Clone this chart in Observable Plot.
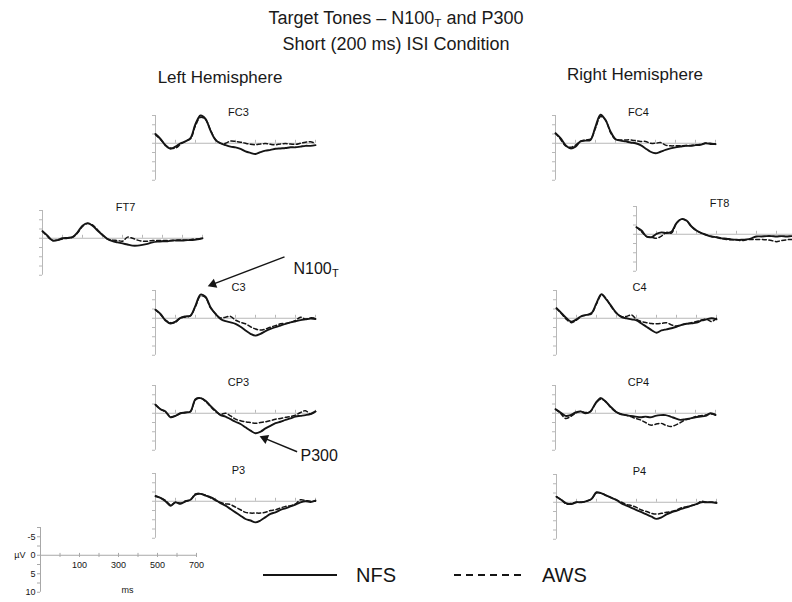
<!DOCTYPE html>
<html>
<head>
<meta charset="utf-8">
<script src="https://cdn.jsdelivr.net/npm/d3@7"></script>
<script src="https://cdn.jsdelivr.net/npm/@observablehq/plot@0.6"></script>
<style>
  body { margin: 0; background: #fff; }
  #chart { position: relative; width: 792px; height: 602px; overflow: hidden;
           font-family: "Liberation Sans", Arial, sans-serif; color: #1a1a1a; background: #fff; }
  .txt { position: absolute; white-space: nowrap; transform: translate(-50%, -50%); line-height: 1; }
  .panel { position: absolute; }
  .panel svg { overflow: visible; max-width: none; display: block; }
  sub { font-size: 0.65em; vertical-align: -0.25em; }
</style>
</head>
<body>
<div id="chart">
  <div class="txt" style="left:396px;top:19px;font-size:18px;">Target Tones – N100<sub>T</sub> and P300</div>
  <div class="txt" style="left:396px;top:44px;font-size:18px;">Short (200 ms) ISI Condition</div>
  <div class="txt" style="left:220px;top:77px;font-size:17px;">Left Hemisphere</div>
  <div class="txt" style="left:635px;top:74px;font-size:17px;">Right Hemisphere</div>
</div>
<script>
// Sample times (ms after tone onset)
const times = [-100,-75,-50,-25,0,25,50,75,100,125,150,175,200,225,250,275,300,325,350,375,400,425,450,475,500,525,550,575,600,625,650,675,700];

// Grand-average waveforms (µV, negative up) per electrode and group
const FC3_NFS = [-2.5,-1.2,0.6,1.5,0.9,0.0,-0.5,-1.4,-5.2,-7.5,-6.6,-3.4,-0.9,0.0,0.5,0.9,1.1,1.5,2.2,2.6,2.9,2.4,2.0,1.8,1.5,1.4,1.3,1.1,1.1,0.9,0.7,0.7,0.5];
const FC3_AWS = [-2.3,-1.0,0.5,1.3,1.3,0.3,-0.6,-1.2,-4.8,-7.0,-6.4,-3.6,-1.0,0.0,0.0,-0.6,-0.5,-0.3,0.0,0.3,0.4,0.2,0.1,0.3,0.4,0.2,0.1,0.2,0.3,0.0,-0.3,-0.4,0.0];
const FT7_NFS = [-1.9,-0.7,0.6,0.5,0.0,-0.1,-0.3,-1.6,-3.4,-4.1,-3.4,-2.1,-0.9,0.2,0.8,1.1,1.4,1.7,2.0,2.0,1.8,1.5,1.1,0.9,0.8,0.8,0.6,0.6,0.6,0.5,0.5,0.3,0.0];
const FT7_AWS = [-1.9,-0.5,0.6,0.5,0.2,0.0,-0.3,-1.4,-3.2,-4.0,-3.6,-2.3,-0.9,0.2,0.5,0.6,0.8,-0.3,0.0,0.5,0.8,0.8,0.6,0.6,0.6,0.6,0.6,0.5,0.5,0.5,0.3,0.2,0.0];
const C3_NFS  = [-2.3,-1.2,0.6,1.4,0.9,-0.1,-0.5,-0.7,-3.4,-6.4,-5.8,-3.0,-1.2,0.2,0.8,1.1,1.5,2.3,3.3,4.2,4.7,4.2,3.5,2.9,2.4,2.0,1.5,1.1,0.8,0.5,0.3,0.1,0.2];
const C3_AWS  = [-2.3,-1.0,0.5,1.2,1.1,-0.1,-0.3,-0.7,-3.2,-6.0,-5.6,-2.8,-1.2,-0.1,-0.3,-0.5,0.5,1.1,1.5,2.3,2.9,3.2,2.9,2.4,2.0,1.5,1.4,1.1,0.6,-0.3,0.2,-0.1,0.0];
const CP3_NFS = [-2.3,-1.1,-0.5,1.1,0.7,0.0,-0.2,-0.5,-3.8,-4.1,-3.4,-2.0,-0.7,0.5,0.9,1.6,2.3,2.9,3.8,4.7,5.4,5.0,4.1,3.4,2.7,2.3,1.8,1.4,0.9,0.7,0.5,0.2,-0.5];
const CP3_AWS = [-2.3,-1.1,-0.3,0.9,0.7,0.0,-0.2,-0.5,-3.6,-4.1,-3.2,-1.8,-0.5,0.3,0.0,0.7,1.6,2.0,2.3,2.5,2.7,2.5,2.3,2.0,1.6,1.4,1.1,0.9,0.5,-0.2,-0.7,0.2,-0.5];
const P3_NFS  = [-1.3,-0.9,0.0,1.2,0.3,0.7,0.0,-0.4,-1.8,-2.0,-1.5,-1.1,-0.4,0.5,1.2,2.1,3.0,3.9,4.8,5.2,5.7,5.2,4.3,3.4,3.0,2.3,1.9,1.4,0.9,0.3,0.0,0.2,-0.2];
const P3_AWS  = [-1.5,-0.9,-0.2,1.0,0.3,0.5,0.0,-0.4,-2.0,-2.0,-1.7,-0.9,-0.2,0.3,0.7,0.9,1.6,2.3,3.0,3.2,3.2,3.2,3.0,2.5,2.3,1.8,1.4,1.2,0.7,-0.4,-0.2,0.0,0.0];
const FC4_NFS = [-2.7,-1.4,0.5,1.4,0.9,-0.5,-0.7,-0.9,-4.5,-7.7,-6.3,-3.2,-1.1,-0.7,-0.5,-0.2,0.0,0.5,1.4,2.3,2.7,2.3,1.8,1.4,1.1,0.9,0.7,0.7,0.5,0.4,0.0,0.2,0.2];
const FC4_AWS = [-2.7,-1.1,0.7,1.1,0.5,-0.5,-0.9,-1.1,-4.1,-7.2,-6.3,-2.9,-1.1,-0.9,-0.9,-0.9,-0.7,-0.5,-0.5,0.0,0.0,-0.2,0.5,0.7,0.7,0.7,0.6,0.6,0.5,0.3,0.0,0.0,0.3];
const FT8_NFS = [-1.9,-1.0,0.6,0.8,-0.1,-0.5,-0.3,-0.7,-3.0,-4.1,-3.7,-2.1,-1.0,-0.3,0.2,0.6,0.8,1.1,1.2,1.4,1.5,1.5,1.4,1.1,0.6,0.6,0.5,0.5,0.6,0.5,0.6,0.5,0.5];
const FT8_AWS = [-1.9,-0.7,0.6,0.8,1.1,0.5,-0.5,-0.3,-3.0,-4.1,-3.6,-2.1,-1.0,-0.3,0.2,0.6,0.8,1.1,1.4,1.5,1.5,1.7,1.5,1.4,1.4,1.4,1.5,1.7,2.0,1.7,1.5,1.4,1.4];
const C4_NFS  = [-2.7,-1.4,0.0,0.9,0.3,-0.6,-0.9,-1.4,-4.1,-6.5,-5.0,-3.2,-1.4,-0.3,0.0,0.3,0.6,1.4,2.3,3.2,3.9,3.3,3.0,2.7,2.3,1.8,1.5,1.4,1.2,0.6,0.3,0.0,0.3];
const C4_AWS  = [-2.7,-1.2,0.3,1.2,0.5,-0.5,-0.9,-1.2,-3.9,-6.3,-5.2,-3.0,-1.4,-0.5,-0.5,-0.9,0.3,0.9,1.2,1.4,1.5,1.4,1.2,1.8,2.1,1.8,1.5,1.2,0.9,0.5,0.3,0.9,0.0];
const CP4_NFS = [-1.1,-0.2,0.7,0.5,-0.2,-0.5,0.0,-0.5,-2.7,-4.1,-3.2,-1.8,-0.5,0.2,0.5,0.7,0.9,1.1,0.9,1.1,0.7,0.5,0.5,0.9,1.4,1.8,1.6,1.4,1.1,0.9,0.7,0.0,0.5];
const CP4_AWS = [-1.1,0.0,1.4,0.9,0.0,-0.5,-0.2,-0.5,-2.5,-3.8,-3.2,-1.6,-0.5,0.2,0.5,0.9,1.4,1.8,2.5,3.2,3.0,2.7,3.2,3.6,3.2,2.5,1.8,1.4,0.9,0.7,0.5,0.2,0.3];
const P4_NFS  = [-1.5,-0.6,0.3,0.5,0.0,0.0,-0.3,-0.9,-2.7,-2.4,-1.8,-1.2,-0.6,0.3,0.9,1.5,2.1,2.7,3.3,3.9,4.5,4.1,3.3,2.7,2.3,1.8,1.4,0.9,0.5,0.0,0.0,0.0,0.2];
const P4_AWS  = [-1.5,-0.6,0.5,0.3,0.0,0.0,-0.3,-0.9,-2.5,-2.4,-1.8,-1.2,-0.6,0.0,0.6,0.9,1.4,2.1,2.5,3.0,3.2,3.0,2.7,2.5,2.1,1.5,1.2,0.9,0.5,-0.3,0.0,0.0,0.0];

// Axis ranges and tick values
const timeDomain = [-100, 700];
const voltDomain = [-7.5, 10];
const voltTicks = [-7.5, -5, -2.5, 0, 2.5, 5, 7.5, 10];
const timeTicks = [0, 100, 200, 300, 400, 500, 600, 700];
const scaleVoltLabels = [-5, 0, 5, 10];
const scaleTimeLabels = [100, 300, 500, 700];
const groups = ["NFS", "AWS"];

// Panel placement on the page: left edge of the y axis and the 0 µV line
const layout = [
  {name: "FC3", nfs: FC3_NFS, aws: FC3_AWS, x: 155,  y: 143},
  {name: "FT7", nfs: FT7_NFS, aws: FT7_AWS, x: 41.5, y: 237.5},
  {name: "C3",  nfs: C3_NFS,  aws: C3_AWS,  x: 155,  y: 318},
  {name: "CP3", nfs: CP3_NFS, aws: CP3_AWS, x: 155,  y: 413},
  {name: "P3",  nfs: P3_NFS,  aws: P3_AWS,  x: 155,  y: 501},
  {name: "FC4", nfs: FC4_NFS, aws: FC4_AWS, x: 555,  y: 143},
  {name: "FT8", nfs: FT8_NFS, aws: FT8_AWS, x: 636,  y: 234},
  {name: "C4",  nfs: C4_NFS,  aws: C4_AWS,  x: 556,  y: 318},
  {name: "CP4", nfs: CP4_NFS, aws: CP4_AWS, x: 555,  y: 413},
  {name: "P4",  nfs: P4_NFS,  aws: P4_AWS,  x: 556,  y: 501.5}
];

// Component call-outs, in the data coordinates of their panel
const callouts = [
  {panel: "C3",  label: "N100", sub: "T", at: [590, -13.4], tail: [545, -16.6], head: [178, -9.0]},
  {panel: "CP3", label: "P300", sub: "",  at: [625, 11.4],  tail: [608, 10.4],  head: [437, 6.6]}
];

const PX_PER_MS = 0.2, PX_PER_UV = 3.7;
const M = {l: 40, r: 10, t: 18, b: 12};
const AXIS = "#b8b8b8", INK = "#151515";
const FONT = "'Liberation Sans', Arial, sans-serif";
const chart = document.getElementById("chart");

function frameSize(pxPerMs) {
  return {
    w: (timeDomain[1] - timeDomain[0]) * pxPerMs,
    h: (voltDomain[1] - voltDomain[0]) * PX_PER_UV
  };
}

function place(svg, axisX, zeroY) {
  const div = document.createElement("div");
  div.className = "panel";
  div.style.left = (axisX - M.l) + "px";
  div.style.top = (zeroY - (0 - voltDomain[0]) * PX_PER_UV - M.t) + "px";
  div.appendChild(svg);
  chart.appendChild(div);
}

function calloutMarks(c) {
  const dxPx = (c.head[0] - c.tail[0]) * PX_PER_MS;
  const dyPx = (c.head[1] - c.tail[1]) * PX_PER_UV;
  const len = Math.hypot(dxPx, dyPx);
  const ux = dxPx / len, uy = dyPx / len;
  const angle = Math.atan2(dxPx, -dyPx) * 180 / Math.PI;
  const marks = [
    Plot.link([c], {x1: d => d.tail[0], y1: d => d.tail[1], x2: d => d.head[0], y2: d => d.head[1],
                    stroke: INK, strokeWidth: 1.4}),
    Plot.dot([c], {x: d => d.head[0], y: d => d.head[1], symbol: "triangle", r: 3.6,
                   rotate: angle, fill: INK, stroke: "none", dx: -2 * ux, dy: -2 * uy}),
    Plot.text([c], {x: d => d.at[0], y: d => d.at[1], text: "label", textAnchor: "start",
                    fontSize: 16, fill: INK, lineAnchor: "middle"})
  ];
  if (c.sub) {
    marks.push(Plot.text([c], {x: d => d.at[0], y: d => d.at[1], text: "sub", textAnchor: "start",
                               fontSize: 11, fill: INK, lineAnchor: "middle", dx: 38.5, dy: 5}));
  }
  return marks;
}

function waveformPanel(p) {
  const {w, h} = frameSize(PX_PER_MS);
  const rows = times.flatMap((t, i) => [
    {t, v: p.nfs[i], group: groups[0]},
    {t, v: p.aws[i], group: groups[1]}
  ]);
  const marks = [
    Plot.ruleY([0], {stroke: AXIS, strokeWidth: 1}),
    Plot.ruleX([timeDomain[0]], {stroke: AXIS, strokeWidth: 1}),
    Plot.axisY(voltTicks, {tickSize: 3, tickFormat: () => "", stroke: AXIS, label: null}),
    Plot.ruleX(timeTicks, {x: d => d, y1: () => 0, y2: () => -0.8, stroke: AXIS}),
    Plot.line(rows.filter(d => d.group === "AWS"), {x: "t", y: "v", stroke: INK,
              strokeWidth: 1.5, strokeDasharray: "4,2.6", curve: "catmull-rom"}),
    Plot.line(rows.filter(d => d.group === "NFS"), {x: "t", y: "v", stroke: INK,
              strokeWidth: 1.9, curve: "catmull-rom"}),
    Plot.text([p.name], {frameAnchor: "top", lineAnchor: "middle", dy: -3, dx: 3,
              fontSize: 11, fill: INK})
  ];
  callouts.filter(c => c.panel === p.name).forEach(c => marks.push(...calloutMarks(c)));
  return Plot.plot({
    width: M.l + w + M.r, height: M.t + h + M.b,
    marginLeft: M.l, marginRight: M.r, marginTop: M.t, marginBottom: M.b,
    x: {domain: timeDomain, axis: null},
    y: {domain: voltDomain, reverse: true, axis: null},
    style: {fontFamily: FONT, overflow: "visible", background: "transparent"},
    marks
  });
}

layout.forEach(p => place(waveformPanel(p), p.x, p.y));

// Calibration panel: µV and ms scale
(function scalePanel() {
  const pxPerMs = 0.195;
  const {w, h} = frameSize(pxPerMs);
  const svg = Plot.plot({
    width: M.l + w + M.r, height: M.t + h + M.b,
    marginLeft: M.l, marginRight: M.r, marginTop: M.t, marginBottom: M.b,
    x: {domain: timeDomain, axis: null},
    y: {domain: voltDomain, reverse: true, axis: null},
    style: {fontFamily: FONT, overflow: "visible", background: "transparent"},
    marks: [
      Plot.ruleY([0], {stroke: "#a8a8a8"}),
      Plot.ruleX([timeDomain[0]], {stroke: "#a8a8a8"}),
      Plot.axisY(voltTicks, {tickSize: 3, tickFormat: () => "", stroke: "#a8a8a8", label: null}),
      Plot.axisY(scaleVoltLabels, {tickSize: 0, tickPadding: 5, fontSize: 9, fill: INK,
                 tickFormat: d => String(d), label: null}),
      Plot.ruleX(timeTicks, {x: d => d, y1: () => -0.5, y2: () => 0.6, stroke: "#a8a8a8"}),
      Plot.text(scaleTimeLabels, {x: d => d, y: () => 0, dy: 10, text: d => String(d),
                fontSize: 9, fill: INK}),
      Plot.text(["µV"], {x: () => timeDomain[0], y: () => 0, dx: -15, textAnchor: "end",
                fontSize: 9, fill: INK}),
      Plot.text(["ms"], {frameAnchor: "bottom", dx: 9, dy: -2, lineAnchor: "middle",
                fontSize: 9, fill: INK})
    ]
  });
  place(svg, 40, 555);
})();

// Group key
(function legend() {
  const ns = "http://www.w3.org/2000/svg";
  const svg = document.createElementNS(ns, "svg");
  svg.setAttribute("width", 792); svg.setAttribute("height", 40);
  svg.style.position = "absolute"; svg.style.left = "0px"; svg.style.top = "555px";
  const items = [
    {label: groups[0], x1: 263, x2: 337, tx: 356, dash: null, sw: 2},
    {label: groups[1], x1: 454, x2: 526, tx: 542, dash: "7,5", sw: 1.8}
  ];
  items.forEach(it => {
    const l = document.createElementNS(ns, "line");
    l.setAttribute("x1", it.x1); l.setAttribute("x2", it.x2);
    l.setAttribute("y1", 20); l.setAttribute("y2", 20);
    l.setAttribute("stroke", INK); l.setAttribute("stroke-width", it.sw);
    if (it.dash) l.setAttribute("stroke-dasharray", it.dash);
    svg.appendChild(l);
    const t = document.createElementNS(ns, "text");
    t.setAttribute("x", it.tx); t.setAttribute("y", 20); t.setAttribute("dy", "0.36em");
    t.setAttribute("font-size", 20); t.setAttribute("font-family", FONT); t.setAttribute("fill", INK);
    t.textContent = it.label;
    svg.appendChild(t);
  });
  chart.appendChild(svg);
})();
</script>
</body>
</html>
